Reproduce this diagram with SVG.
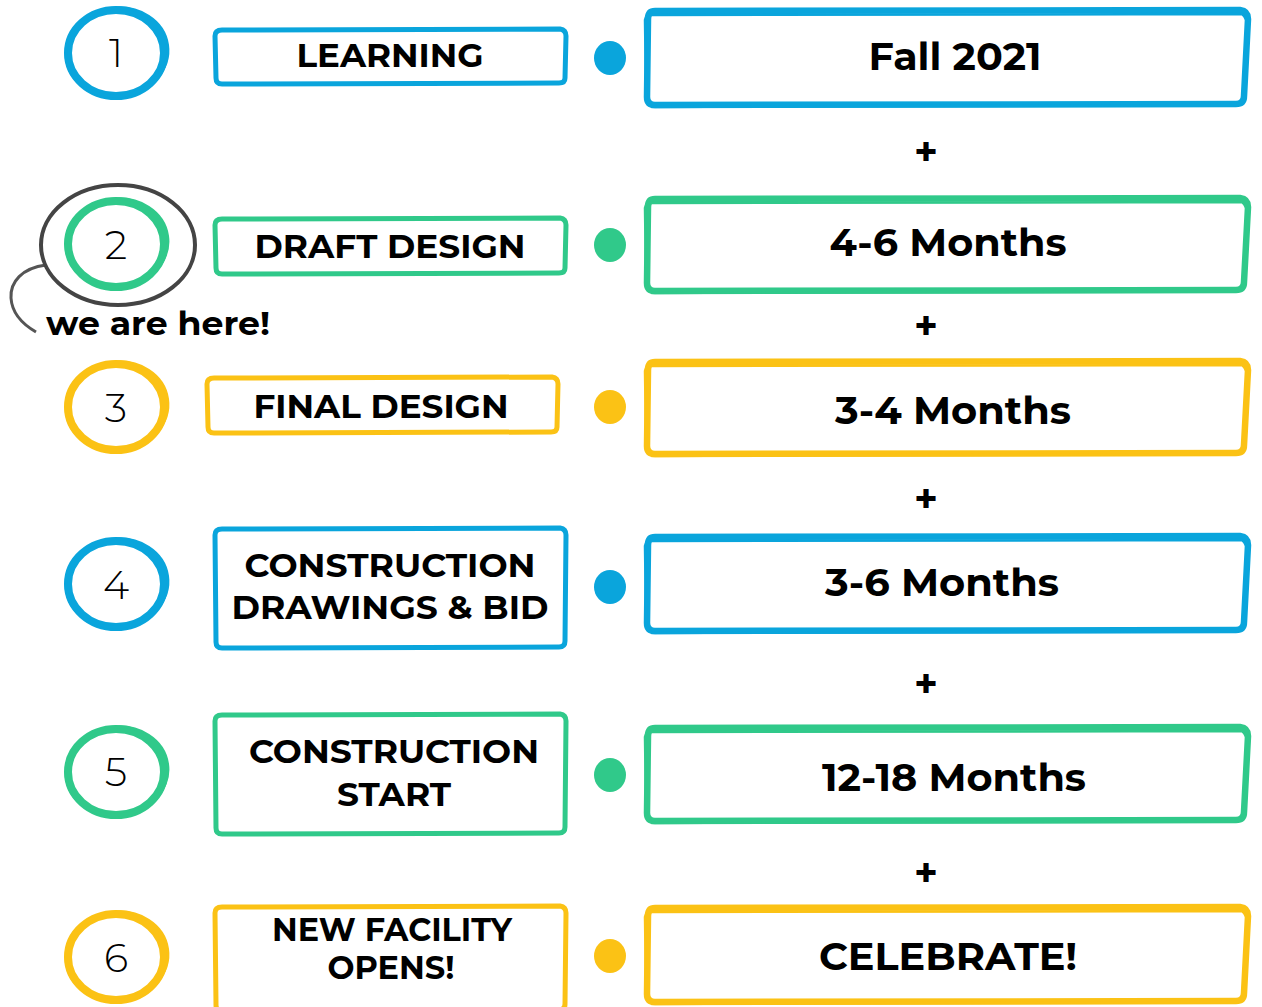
<svg xmlns="http://www.w3.org/2000/svg" width="1262" height="1007" viewBox="0 0 1262 1007">
<style>
.b{stroke:#0AA5DC}.g{stroke:#30C98A}.y{stroke:#FBC215}
.bf{fill:#0AA5DC}.gf{fill:#30C98A}.yf{fill:#FBC215}
.box{fill:#fff;stroke-width:5;stroke-linejoin:round}
.big{fill:#fff;stroke-width:6.5;stroke-linejoin:round}
.sk{fill:none;stroke-width:2.5;stroke-linejoin:round}
.ring{fill:none;stroke-width:8}
.ring2{fill:none;stroke-width:3}
text{font-family:"Montserrat","Open Sans","Liberation Sans",sans-serif;fill:#000;text-anchor:middle}
.lbl{font-weight:700;font-size:32px}
.dur{font-weight:700;font-size:38px}
.num{font-weight:300;font-size:40px}
.plus{font-weight:700;font-size:40px}
</style>
<rect width="1262" height="1007" fill="#fff"/>

<g id="connectors">
<path d="M46,265 C22,268 10,282 11,298 C12,314 24,325 36,332" fill="none" stroke="#555" stroke-width="3"/>
<text class="plus" x="926" y="166">+</text>
<text class="plus" x="926" y="340">+</text>
<text class="plus" x="926" y="513">+</text>
<text class="plus" x="926" y="698">+</text>
<text class="plus" x="926" y="887">+</text>
</g>

<g id="step1">
<ellipse class="ring b" cx="116" cy="53" rx="48" ry="43"/>
<ellipse class="ring2 b" cx="117" cy="52" rx="51" ry="44" transform="rotate(-8 117 52)"/>
<text class="num" x="116" y="67">1</text>
<path class="box b" d="M222,30 L560,29 Q566,30 566,36 L565,78 Q565,83 559,83 L222,84 Q216,84 216,78 L215,36 Q215,30 222,30 Z"/>
<text class="lbl" x="390" y="67" textLength="187" lengthAdjust="spacingAndGlyphs">LEARNING</text>
<ellipse class="bf" cx="610" cy="58" rx="16" ry="17"/>
<path class="big b" d="M655,11 L1240,10 Q1248,11 1248,19 L1244,96 Q1244,104 1236,104 L655,105 Q647,105 647,97 L648,19 Q648,11 655,11 Z"/>
<path class="sk b" d="M652,15 L1242,14 Q1250,20 1247,40 L1244,100 Q1240,106 1230,105 L652,107 Q645,102 646,90 L645,20 Q646,13 652,15 Z"/>
<text class="dur" x="955" y="70" textLength="173" lengthAdjust="spacingAndGlyphs">Fall 2021</text>
</g>

<g id="step2">
<ellipse cx="118" cy="245" rx="77" ry="60" fill="none" stroke="#444" stroke-width="4"/>
<ellipse class="ring g" cx="116" cy="244" rx="48" ry="43"/>
<ellipse class="ring2 g" cx="117" cy="243" rx="51" ry="44" transform="rotate(-8 117 243)"/>
<text class="num" x="116" y="259">2</text>
<path class="box g" d="M222,219 L560,218 Q566,219 566,225 L565,268 Q565,273 559,273 L222,274 Q216,274 216,268 L215,225 Q215,219 222,219 Z"/>
<text class="lbl" x="390" y="258" textLength="271" lengthAdjust="spacingAndGlyphs">DRAFT DESIGN</text>
<ellipse class="gf" cx="610" cy="245" rx="16" ry="17"/>
<path class="big g" d="M655,199 L1240,198 Q1248,199 1248,207 L1244,282 Q1244,290 1236,290 L655,291 Q647,291 647,283 L648,207 Q648,199 655,199 Z"/>
<path class="sk g" d="M652,203 L1242,202 Q1250,208 1247,228 L1244,286 Q1240,292 1230,291 L652,293 Q645,288 646,276 L645,208 Q646,201 652,203 Z"/>
<text class="dur" x="948" y="256" textLength="237" lengthAdjust="spacingAndGlyphs">4-6 Months</text>
<text class="lbl" x="158" y="335" textLength="224" lengthAdjust="spacingAndGlyphs">we are here!</text>
</g>

<g id="step3">
<ellipse class="ring y" cx="116" cy="407" rx="48" ry="43"/>
<ellipse class="ring2 y" cx="117" cy="406" rx="51" ry="44" transform="rotate(-8 117 406)"/>
<text class="num" x="116" y="422">3</text>
<path class="box y" d="M214,378 L552,377 Q558,378 558,384 L557,427 Q557,432 551,432 L214,433 Q208,433 208,427 L207,384 Q207,378 214,378 Z"/>
<text class="lbl" x="381" y="418" textLength="255" lengthAdjust="spacingAndGlyphs">FINAL DESIGN</text>
<ellipse class="yf" cx="610" cy="407" rx="16" ry="17"/>
<path class="big y" d="M655,362 L1240,361 Q1248,362 1248,370 L1244,445 Q1244,453 1236,453 L655,454 Q647,454 647,446 L648,370 Q648,362 655,362 Z"/>
<path class="sk y" d="M652,366 L1242,365 Q1250,371 1247,391 L1244,449 Q1240,455 1230,454 L652,456 Q645,451 646,439 L645,371 Q646,364 652,366 Z"/>
<text class="dur" x="953" y="424" textLength="236" lengthAdjust="spacingAndGlyphs">3-4 Months</text>
</g>

<g id="step4">
<ellipse class="ring b" cx="116" cy="584" rx="48" ry="43"/>
<ellipse class="ring2 b" cx="117" cy="583" rx="51" ry="44" transform="rotate(-8 117 583)"/>
<text class="num" x="116" y="599">4</text>
<path class="box b" d="M222,529 L560,528 Q566,529 566,535 L565,641 Q565,647 559,647 L222,648 Q216,648 216,642 L215,535 Q215,529 222,529 Z"/>
<text class="lbl" x="390" y="577" textLength="291" lengthAdjust="spacingAndGlyphs">CONSTRUCTION</text>
<text class="lbl" x="390" y="619" textLength="317" lengthAdjust="spacingAndGlyphs">DRAWINGS &amp; BID</text>
<ellipse class="bf" cx="610" cy="587" rx="16" ry="17"/>
<path class="big b" d="M655,537 L1240,536 Q1248,537 1248,545 L1244,622 Q1244,630 1236,630 L655,631 Q647,631 647,623 L648,545 Q648,537 655,537 Z"/>
<path class="sk b" d="M652,541 L1242,540 Q1250,546 1247,566 L1244,626 Q1240,632 1230,631 L652,633 Q645,628 646,616 L645,546 Q646,539 652,541 Z"/>
<text class="dur" x="942" y="596" textLength="234" lengthAdjust="spacingAndGlyphs">3-6 Months</text>
</g>

<g id="step5">
<ellipse class="ring g" cx="116" cy="772" rx="48" ry="43"/>
<ellipse class="ring2 g" cx="117" cy="771" rx="51" ry="44" transform="rotate(-8 117 771)"/>
<text class="num" x="116" y="786">5</text>
<path class="box g" d="M222,715 L560,714 Q566,715 566,721 L565,827 Q565,833 559,833 L222,834 Q216,834 216,828 L215,721 Q215,715 222,715 Z"/>
<text class="lbl" x="394" y="763" textLength="290" lengthAdjust="spacingAndGlyphs">CONSTRUCTION</text>
<text class="lbl" x="394" y="806" textLength="114" lengthAdjust="spacingAndGlyphs">START</text>
<ellipse class="gf" cx="610" cy="775" rx="16" ry="17"/>
<path class="big g" d="M655,728 L1240,727 Q1248,728 1248,736 L1244,812 Q1244,820 1236,820 L655,821 Q647,821 647,813 L648,736 Q648,728 655,728 Z"/>
<path class="sk g" d="M652,732 L1242,731 Q1250,737 1247,757 L1244,816 Q1240,822 1230,821 L652,823 Q645,818 646,806 L645,737 Q646,730 652,732 Z"/>
<text class="dur" x="954" y="791" textLength="264" lengthAdjust="spacingAndGlyphs">12-18 Months</text>
</g>

<g id="step6">
<ellipse class="ring y" cx="116" cy="957" rx="48" ry="43"/>
<ellipse class="ring2 y" cx="117" cy="956" rx="51" ry="44" transform="rotate(-8 117 956)"/>
<text class="num" x="116" y="972">6</text>
<path class="box y" d="M222,907 L560,906 Q566,907 566,913 L565,1004 Q565,1010 559,1010 L222,1011 Q216,1011 216,1005 L215,913 Q215,907 222,907 Z"/>
<text class="lbl" x="392" y="941" font-size="30" textLength="240" lengthAdjust="spacingAndGlyphs">NEW FACILITY</text>
<text class="lbl" x="391" y="979" font-size="30" textLength="127" lengthAdjust="spacingAndGlyphs">OPENS!</text>
<ellipse class="yf" cx="610" cy="956" rx="16" ry="17"/>
<path class="big y" d="M655,908 L1240,907 Q1248,908 1248,916 L1244,993 Q1244,1001 1236,1001 L655,1002 Q647,1002 647,994 L648,916 Q648,908 655,908 Z"/>
<path class="sk y" d="M652,912 L1242,911 Q1250,917 1247,937 L1244,997 Q1240,1003 1230,1002 L652,1004 Q645,999 646,987 L645,917 Q646,910 652,912 Z"/>
<text class="dur" x="948" y="970" textLength="258" lengthAdjust="spacingAndGlyphs">CELEBRATE!</text>
</g>
</svg>
